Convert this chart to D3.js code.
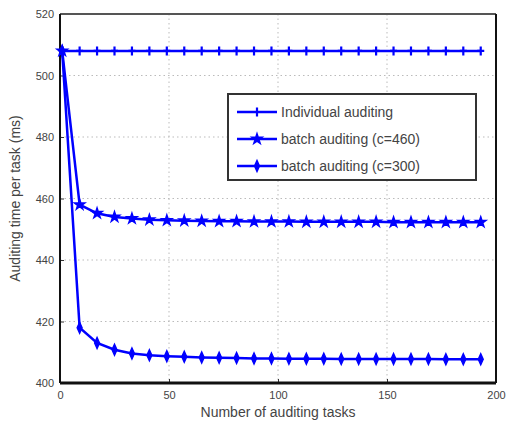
<!DOCTYPE html>
<html>
<head>
<meta charset="utf-8">
<script src="https://cdn.jsdelivr.net/npm/d3@7"></script>
<style>
  body { margin: 0; background: #fff; }
  svg text { font-family: "Liberation Sans", Arial, sans-serif; fill: #444; }
</style>
</head>
<body>
<div id="chart"></div>
<script>
// Data
const tasks = [1, 9, 17, 25, 33, 41, 49, 57, 65, 73, 81, 89, 97, 105, 113, 121, 129, 137, 145, 153, 161, 169, 177, 185, 193];
const individual = [508, 508, 508, 508, 508, 508, 508, 508, 508, 508, 508, 508, 508, 508, 508, 508, 508, 508, 508, 508, 508, 508, 508, 508, 508];
const batch460 = [508, 458, 455.2, 454, 453.5, 453.1, 452.9, 452.8, 452.7, 452.6, 452.6, 452.5, 452.5, 452.5, 452.4, 452.4, 452.4, 452.4, 452.4, 452.3, 452.3, 452.3, 452.3, 452.3, 452.3];
const batch300 = [508, 418, 413, 410.8, 409.6, 409, 408.7, 408.5, 408.3, 408.2, 408.1, 408, 408, 407.9, 407.9, 407.9, 407.8, 407.8, 407.8, 407.8, 407.8, 407.8, 407.7, 407.7, 407.7];
const seriesNames = ["Individual auditing", "batch auditing (c=460)", "batch auditing (c=300)"];
const xTicks = [0, 50, 100, 150, 200];
const yTicks = [400, 420, 440, 460, 480, 500, 520];

const width = 506;
const height = 428;
const margin = { top: 14, right: 10, bottom: 45, left: 60 };
const blue = "#0000ff";

const svg = d3.select("#chart")
    .append("svg")
    .attr("width", width)
    .attr("height", height);

const x = d3.scaleLinear().domain([0, 200]).range([margin.left, width - margin.right]);
const y = d3.scaleLinear().domain([400, 520]).range([height - margin.bottom, margin.top]);

// grid
svg.append("g")
    .selectAll("line")
    .data(xTicks.slice(1, -1))
    .join("line")
    .attr("x1", d => x(d)).attr("x2", d => x(d))
    .attr("y1", y(520)).attr("y2", y(400))
    .attr("stroke", "#bbb").attr("stroke-dasharray", "1.5,3");

svg.append("g")
    .selectAll("line")
    .data(yTicks.slice(1, -1))
    .join("line")
    .attr("x1", x(0)).attr("x2", x(200))
    .attr("y1", d => y(d)).attr("y2", d => y(d))
    .attr("stroke", "#bbb").attr("stroke-dasharray", "1.5,3");

// axes
const xAxis = svg.append("g")
    .attr("transform", `translate(0,${y(400)})`)
    .call(d3.axisBottom(x).tickValues(xTicks).tickSize(-4).tickPadding(8));
const yAxis = svg.append("g")
    .attr("transform", `translate(${x(0)},0)`)
    .call(d3.axisLeft(y).tickValues(yTicks).tickSize(-4).tickPadding(6));
[xAxis, yAxis].forEach(a => {
    a.select(".domain").remove();
    a.selectAll(".tick line").attr("stroke", "#333");
    a.selectAll("text").attr("font-size", 11).attr("fill", "#555");
});

// frame
svg.append("line").attr("x1", x(0)).attr("x2", x(200)).attr("y1", y(520)).attr("y2", y(520))
    .attr("stroke", "#555").attr("stroke-width", 2);
svg.append("line").attr("x1", x(200)).attr("x2", x(200)).attr("y1", y(520)).attr("y2", y(400))
    .attr("stroke", "#111").attr("stroke-width", 2);
svg.append("line").attr("x1", x(0)).attr("x2", x(0)).attr("y1", y(520)).attr("y2", y(400))
    .attr("stroke", "#111").attr("stroke-width", 2);
svg.append("line").attr("x1", x(0)).attr("x2", x(200)).attr("y1", y(400)).attr("y2", y(400))
    .attr("stroke", "#111").attr("stroke-width", 3);

// markers
const markerSymbols = [d3.symbolCross, d3.symbolStar, d3.symbolDiamond];
const markerSizes = [0, 32, 30];

function drawMarker(g, k, cx, cy) {
    if (k === 0) {
        g.append("path")
            .attr("d", `M${cx - 3.5},${cy}H${cx + 3.5}M${cx},${cy - 4.5}V${cy + 4.5}`)
            .attr("stroke", blue).attr("stroke-width", 2.2).attr("fill", "none");
    } else {
        g.append("path")
            .attr("d", d3.symbol().type(markerSymbols[k]).size(markerSizes[k])())
            .attr("transform", k === 2 ? `translate(${cx},${cy}) scale(0.85,1.1)` : `translate(${cx},${cy})`)
            .attr("fill", blue).attr("stroke", blue).attr("stroke-width", 1.5);
    }
}

const line = d3.line().x(d => x(d[0])).y(d => y(d[1]));
const allSeries = [individual, batch460, batch300];

allSeries.forEach((vals, k) => {
    const pts = tasks.map((t, i) => [t, vals[i]]);
    const g = svg.append("g");
    g.append("path")
        .datum(pts)
        .attr("d", line)
        .attr("fill", "none")
        .attr("stroke", blue)
        .attr("stroke-width", 2.5);
    pts.forEach(p => drawMarker(g, k, x(p[0]), y(p[1])));
});

// legend
const legend = svg.append("g");
legend.append("rect")
    .attr("x", 228).attr("y", 94).attr("width", 248).attr("height", 86)
    .attr("fill", "#fff").attr("stroke", "#333").attr("stroke-width", 2);
seriesNames.forEach((name, k) => {
    const ly = 112 + k * 27;
    legend.append("line")
        .attr("x1", 237).attr("x2", 277).attr("y1", ly).attr("y2", ly)
        .attr("stroke", blue).attr("stroke-width", 2.5);
    drawMarker(legend, k, 257, ly);
    legend.append("text")
        .attr("x", 281).attr("y", ly + 5)
        .attr("font-size", 14)
        .attr("fill", "#555")
        .text(name);
});

// axis titles
svg.append("text")
    .attr("x", x(100)).attr("y", 417)
    .attr("text-anchor", "middle")
    .attr("font-size", 14)
    .attr("fill", "#555")
    .text("Number of auditing tasks");

svg.append("text")
    .attr("transform", `translate(20,${y(460)}) rotate(-90)`)
    .attr("text-anchor", "middle")
    .attr("font-size", 14)
    .attr("fill", "#555")
    .text("Auditing time per task (ms)");
</script>
</body>
</html>
